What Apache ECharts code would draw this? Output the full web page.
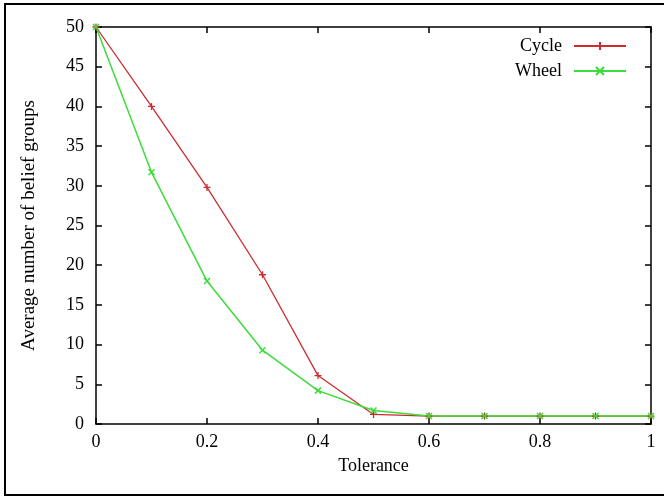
<!DOCTYPE html>
<html>
<head>
<meta charset="utf-8">
<script src="https://cdn.jsdelivr.net/npm/echarts@6/dist/echarts.min.js"></script>
<style>
  html, body { margin: 0; padding: 0; background: #fff; }
  #chart { width: 664px; height: 496px; }
</style>
</head>
<body>
<div id="chart"></div>
<script>
// data
const tolerance = [0, 0.1, 0.2, 0.3, 0.4, 0.5, 0.6, 0.7, 0.8, 0.9, 1.0];
const cycle = [50, 40, 29.8, 18.8, 6.1, 1.2, 1, 1, 1, 1, 1];
const wheel = [50, 31.7, 18, 9.3, 4.2, 1.7, 1, 1, 1, 1, 1];

const font = 'Liberation Serif';
const plus = 'path://M0,5L10,5M5,0L5,10';
const cross = 'path://M0,0L10,10M10,0L0,10';

const pairs = (ys) => tolerance.map((x, i) => [x, ys[i]]);

const chart = echarts.init(document.getElementById('chart'));

const axisBase = {
  axisLine: { show: true, onZero: false, lineStyle: { color: '#000', width: 1.5 } },
  axisTick: { show: true, inside: true, length: 6, lineStyle: { color: '#000', width: 1.5 } },
  splitLine: { show: false }
};

chart.setOption({
  animation: false,
  textStyle: { fontFamily: font },
  grid: { left: 96, right: 13, top: 27, bottom: 72 },
  legend: {
    right: 37, top: 37, padding: 0,
    orient: 'vertical',
    align: 'right',
    itemWidth: 52, itemHeight: 10, itemGap: 7,
    textStyle: { fontFamily: font, fontSize: 18, lineHeight: 18, color: '#000', padding: [0, 7, 0, 0] },
    data: ['Cycle', 'Wheel']
  },
  xAxis: [
    Object.assign({
      type: 'value', min: 0, max: 1, interval: 0.2,
      name: 'Tolerance', nameLocation: 'middle', nameGap: 33,
      nameTextStyle: { fontFamily: font, fontSize: 18, color: '#000' },
      axisLabel: { fontFamily: font, fontSize: 18, color: '#000', margin: 9,
        formatter: v => String(Math.round(v * 10) / 10) }
    }, axisBase),
    Object.assign({
      type: 'value', min: 0, max: 1, interval: 0.2, position: 'top',
      axisLabel: { show: false }
    }, axisBase)
  ],
  yAxis: [
    Object.assign({
      type: 'value', min: 0, max: 50, interval: 5,
      name: 'Average number of belief groups', nameLocation: 'middle', nameGap: 57, nameRotate: 90,
      nameTextStyle: { fontFamily: font, fontSize: 19, color: '#000' },
      axisLabel: { fontFamily: font, fontSize: 18, color: '#000', margin: 12 }
    }, axisBase),
    Object.assign({
      type: 'value', min: 0, max: 50, interval: 5, position: 'right',
      axisLabel: { show: false }
    }, axisBase)
  ],
  series: [
    {
      name: 'Cycle', type: 'line', data: pairs(cycle),
      symbol: plus, symbolSize: 7,
      lineStyle: { color: '#cc2b30', width: 1.3 },
      itemStyle: { color: 'none', borderColor: '#cc2b30', borderWidth: 1.3 }
    },
    {
      name: 'Wheel', type: 'line', data: pairs(wheel),
      symbol: cross, symbolSize: 6,
      lineStyle: { color: '#3bdc3b', width: 1.5 },
      itemStyle: { color: 'none', borderColor: '#3bdc3b', borderWidth: 1.5 }
    }
  ],
  graphic: [
    { type: 'polyline', shape: { points: [[664, 4], [5, 4], [5, 495], [664, 495]] },
      style: { stroke: '#000', lineWidth: 2, fill: null } }
  ]
});
</script>
</body>
</html>
